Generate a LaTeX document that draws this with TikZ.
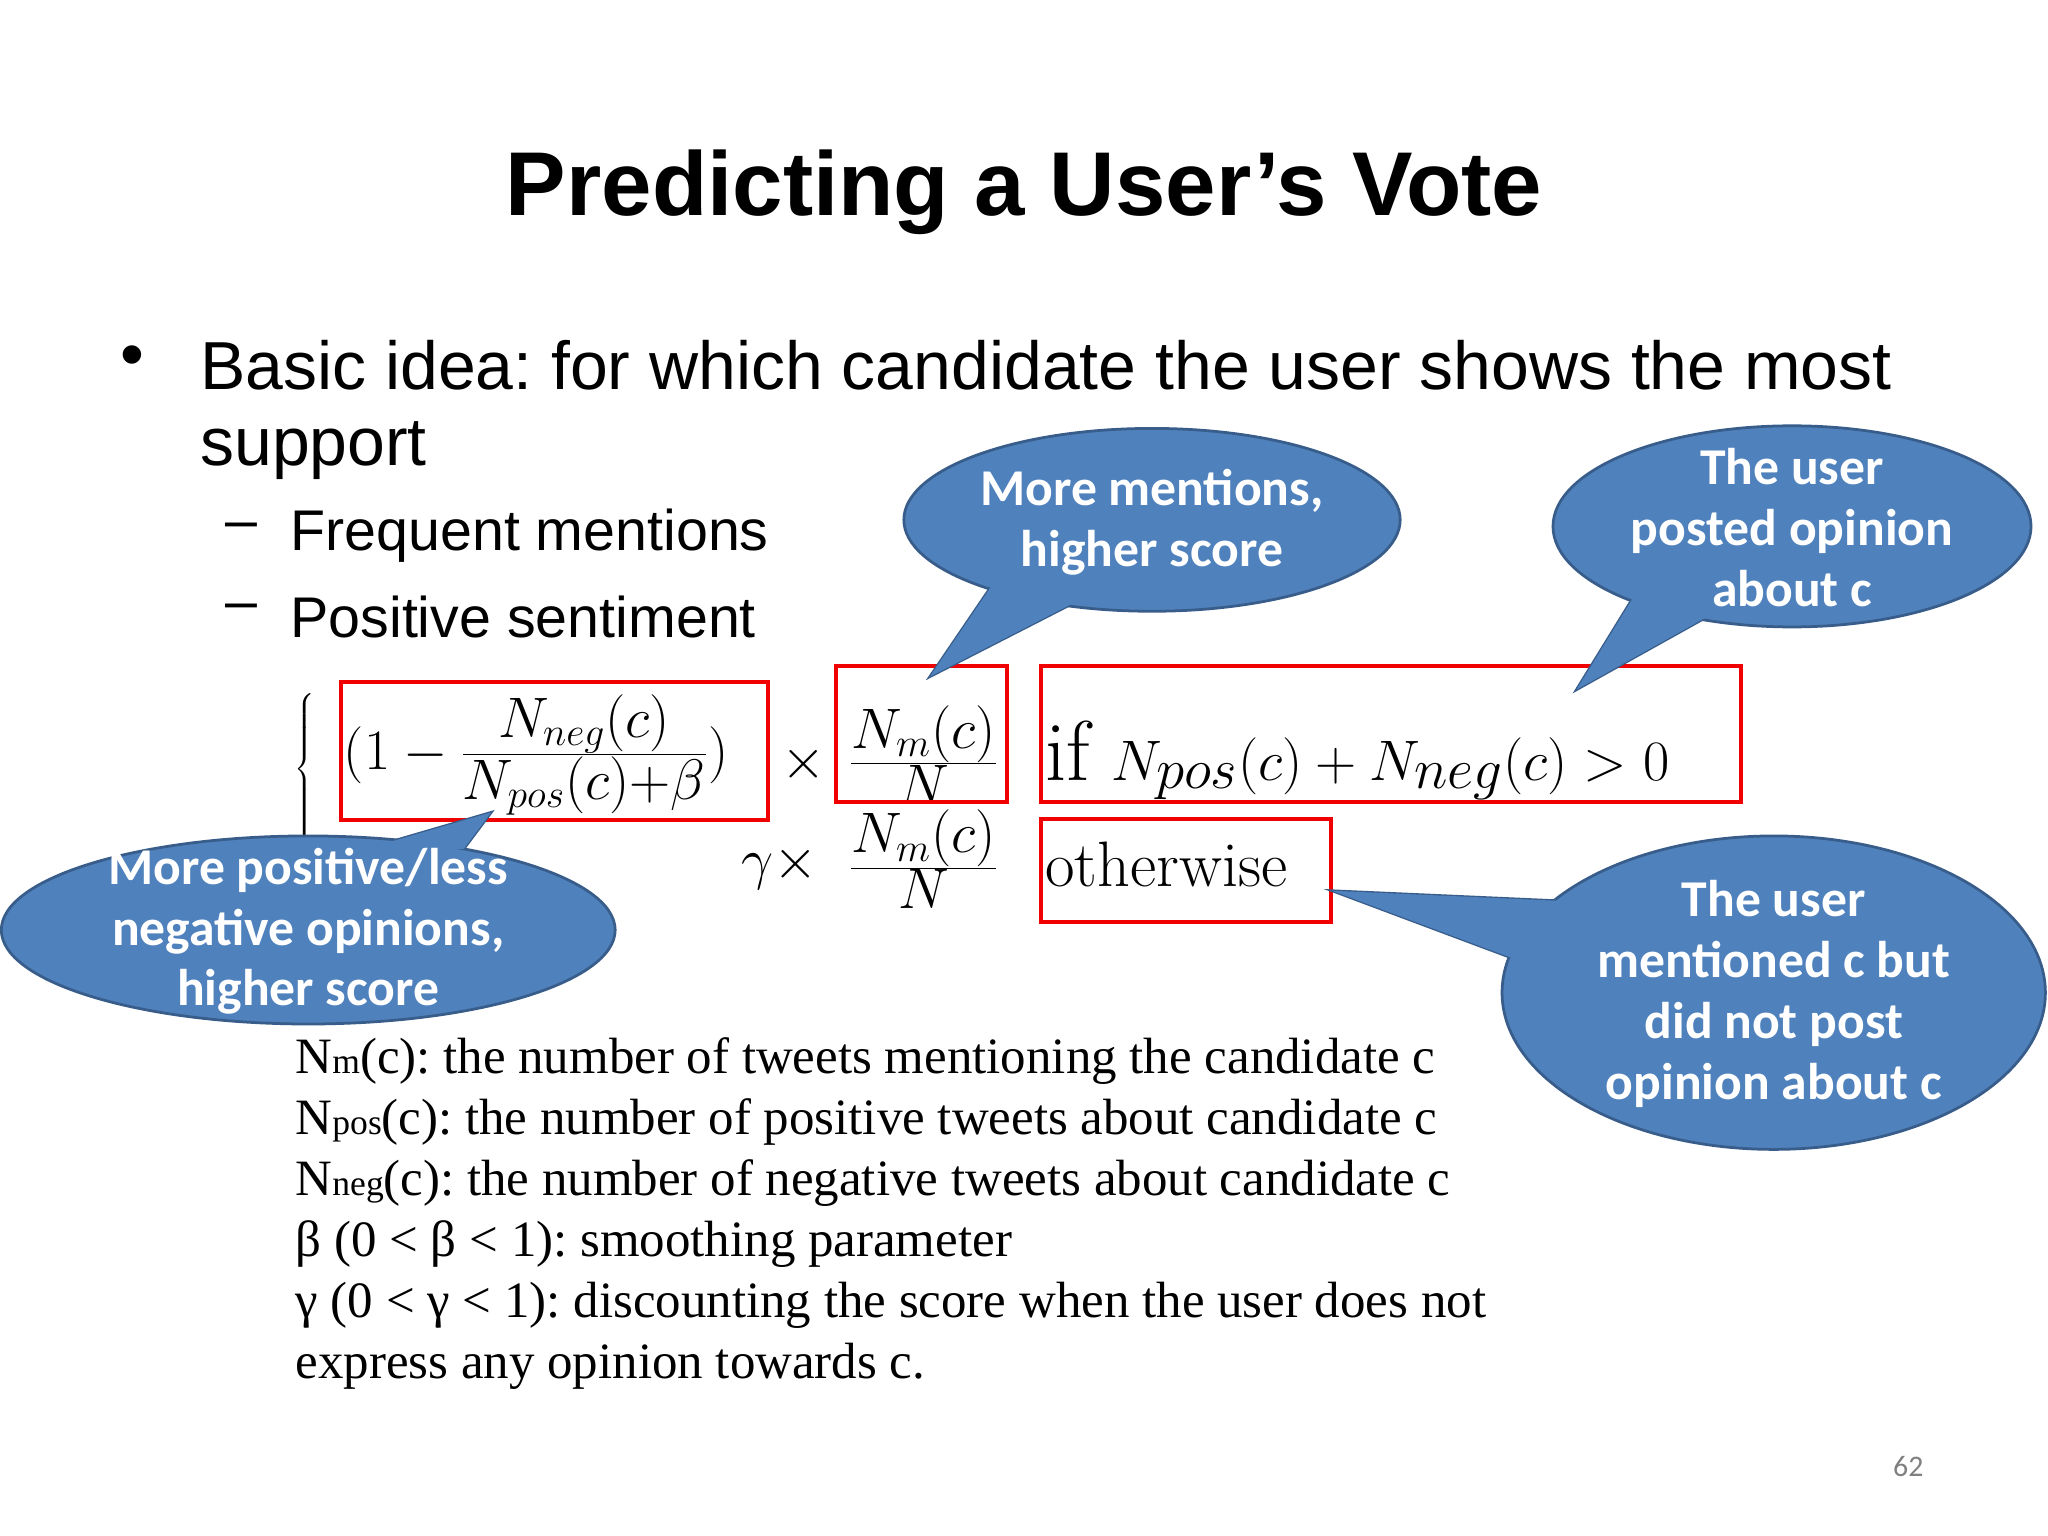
\documentclass[tikz,border=0pt]{standalone}
\usepackage{fontspec}
\setmainfont{Liberation Serif}
\setsansfont{Liberation Sans}
\newfontfamily\callfont{Carlito}
\newfontfamily\lmr{Latin Modern Roman}
\frenchspacing
\definecolor{cfill}{HTML}{4F81BD}
\definecolor{cline}{HTML}{385D8A}
\definecolor{rbox}{HTML}{F00000}
\tikzset{
 px/.style={x=0.02cm,y=-0.02cm},
 redbox/.style={draw=rbox,line width=1.8pt},
 calltxt/.style={text=white,font=\callfont\bfseries\fontsize{22.5}{26.5}\selectfont,align=center},
 eq/.style={inner sep=0pt,font=\fontsize{36}{40}\selectfont},
 body/.style={inner sep=0pt,anchor=west,font=\sffamily\fontsize{29.6}{34}\selectfont},
 sub/.style={inner sep=0pt,anchor=west,font=\sffamily\fontsize{25}{30}\selectfont},
}
\begin{document}
\begin{tikzpicture}[px]
\useasboundingbox (0,0) rectangle (1568,1176);
\fill[white] (0,0) rectangle (1568,1176);
% title
\node[inner sep=0pt,font=\sffamily\bfseries\fontsize{39.5}{44}\selectfont] (title) at (784,147) {Predicting a User{\char39}s Vote};
\node[body] (b1) at (92,277) {\textbullet};
\node[body] (l1) at (153,280) {Basic idea: for which candidate the user shows the most};
\node[body] (l2) at (153,345) {support};
\node[sub] (d1) at (172,407) {--};
\node[sub] (s1) at (222,410) {Frequent mentions};
\node[sub] (d2) at (172,469) {--};
\node[sub] (s2) at (222,472) {Positive sentiment};
% equation
\node[inner sep=0pt,font=\fontsize{32}{36}\selectfont] (brace) at (234,590) {$\left\{\vrule height 28pt depth 28pt width 0pt\right.$};
\node[eq,anchor=west,font=\fontsize{38}{42}\selectfont] (e1) at (263,578) {$(1-\frac{N_{neg}(c)}{N_{pos}(c)+\beta})$};
\node[eq] (x1) at (615,585) {$\times$};
\node[eq] (f1) at (707,578) {$\frac{N_m(c)}{N}$};
\node[eq,anchor=west,font=\fontsize{37}{40}\selectfont] (c1) at (800,582) {{\lmr if} $N_{pos}(c)+N_{neg}(c)>0$};
\node[eq] (g2) at (597,664) {$\gamma\times$};
\node[eq] (f2) at (707,658) {$\frac{N_m(c)}{N}$};
\node[inner sep=0pt,anchor=west,font=\lmr\fontsize{28}{32}\selectfont] (c2) at (800,662) {otherwise};
% red boxes
\draw[redbox] (261,522) rectangle (588,628);
\draw[redbox] (640,510) rectangle (771,614);
\draw[redbox] (797,510) rectangle (1333,614);
\draw[redbox] (797,627) rectangle (1019,706);
% callouts
\foreach \cx/\cy/\rx/\ry/\tx/\ty/\ax/\ay/\bx/\by in {
 882/398/190/70/712/518/765/440/835/455,
 1372/403/183/77/1207/528/1255/450/1320/465,
 236/712/235/72/376/622/280/650/355/650,
 1358/760/208/120/1020/682/1200/690/1175/740}{
 \filldraw[fill=cfill,draw=cline,line width=1.2pt] (\ax,\ay) -- (\tx,\ty) -- (\bx,\by) -- cycle;
 \filldraw[fill=cfill,draw=cline,line width=1.2pt] (\cx,\cy) ellipse [x radius=\rx,y radius=\ry];
 \fill[cfill] (\ax,\ay) -- (\tx,\ty) -- (\bx,\by) -- cycle;
}
\node[calltxt] (t1) at (882,400) {More mentions,\\higher score};
\node[calltxt] (t2) at (1372,404) {The user\\posted opinion\\about c};
\node[calltxt] (t3) at (236,713) {More positive/less\\negative opinions,\\higher score};
\node[calltxt] (t4) at (1358,761) {The user\\mentioned c but\\did not post\\opinion about c};
% definitions
\node[inner sep=0pt,anchor=north west,align=left,font=\fontsize{22.2}{26.6}\selectfont] (defs) at (226,794) {%
N{\fontsize{15.5}{15}\selectfont m}(c): the number of tweets mentioning the candidate c\\
N{\fontsize{15.5}{15}\selectfont pos}(c): the number of positive tweets about candidate c\\
N{\fontsize{15.5}{15}\selectfont neg}(c): the number of negative tweets about candidate c\\
β (0 < β < 1): smoothing parameter\\
γ (0 < γ < 1): discounting the score when the user does not\\
express any opinion towards c.};
\node[inner sep=0pt,text=gray,font=\callfont\fontsize{13}{15}\selectfont] (pg) at (1461,1123) {62};
\end{tikzpicture}
\end{document}
